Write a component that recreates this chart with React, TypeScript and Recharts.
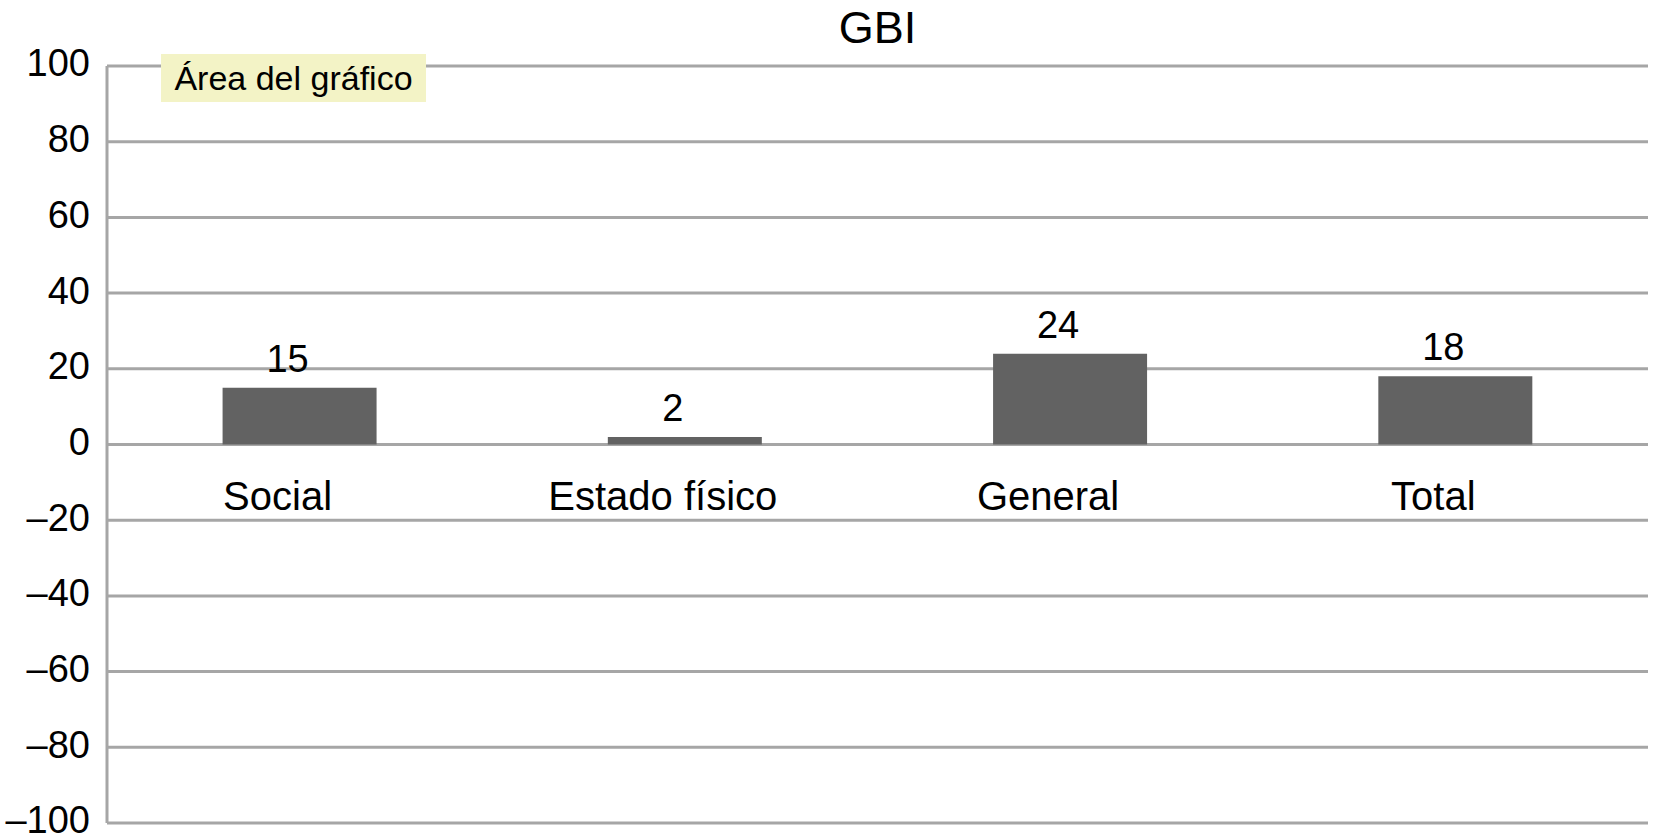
import { BarChart, Bar, XAxis, YAxis, CartesianGrid, LabelList } from "recharts"

const categories = ["Social", "Estado físico", "General", "Total"]
const gbiValues = [15, 2, 24, 18]
const yTicks = [-100, -80, -60, -40, -20, 0, 20, 40, 60, 80, 100]

const chartData = categories.map((name, i) => ({ name, value: gbiValues[i] }))

const font = "'Liberation Sans', Arial, sans-serif"
const gridColor = "#a6a6a6"

const formatTick = (v: number) => (v < 0 ? `–${Math.abs(v)}` : `${v}`)

export default function App() {
  return (
    <div style={{ position: "absolute", left: 0, top: 0, width: 1654, height: 838, background: "#fff", fontFamily: font }}>
      <BarChart
        width={1654}
        height={838}
        data={chartData}
        margin={{ top: 66, right: 6, bottom: 15, left: 0 }}
        barCategoryGap="30%"
      >
        <CartesianGrid vertical={false} stroke={gridColor} strokeWidth={3} />
        <XAxis dataKey="name" hide />
        <YAxis
          width={107}
          domain={[-100, 100]}
          ticks={yTicks}
          interval={0}
          tickFormatter={formatTick}
          axisLine={{ stroke: gridColor, strokeWidth: 3 }}
          tickLine={false}
          tickSize={0}
          tickMargin={17}
          tick={{ fill: "#000", fontSize: 38, fontFamily: font, dy: -3 }}
        />
        <Bar dataKey="value" fill="#626262" isAnimationActive={false}>
          <LabelList dataKey="value" position="top" offset={16} dx={-12} fill="#000" fontSize={38} fontFamily={font} />
          <LabelList dataKey="name" position="bottom" offset={37} dx={-22} fill="#000" fontSize={40} fontFamily={font} />
        </Bar>
      </BarChart>
      <div
        style={{
          position: "absolute",
          left: 0,
          top: 0,
          width: 1755,
          textAlign: "center",
          fontSize: 45,
          lineHeight: "56px",
          color: "#000",
          pointerEvents: "none",
        }}
      >
        GBI
      </div>
      <div
        style={{
          position: "absolute",
          left: 161,
          top: 54,
          width: 265,
          height: 48,
          background: "#f3f3c6",
          fontSize: 34,
          lineHeight: "48px",
          textAlign: "center",
          color: "#000",
        }}
      >
        Área del gráfico
      </div>
    </div>
  )
}
